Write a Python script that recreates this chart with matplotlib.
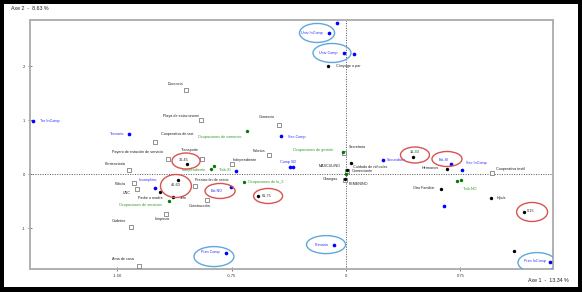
import matplotlib
matplotlib.use("Agg")
import matplotlib.pyplot as plt
from matplotlib.patches import Ellipse, Rectangle

plt.rcParams['font.family'] = ['Liberation Sans', 'DejaVu Sans']

# ---------------- data ----------------
# Occupations (hollow gray squares)
occ_names = ["Docencia", "Playa de estacionami", "Cooperativa de taxi",
             "Payero de estación de servicio", "Pentenciaria", "Transporte",
             "Policía", "UNC", "Prestación de servic", "Construcción", "Limpieza",
             "Cadeteo", "Ama de casa", "Comercio", "Fabrica", "Independiente",
             "Cooperativa textil", "Secretaria", "Comerciante", "Changas"]
occ_x = [-1.049, -0.951, -1.252, -1.167, -1.423, -0.944, -1.390, -1.370, -0.990, -0.911,
         -1.180, -1.410, -1.357, -0.439, -0.505, -0.748, 0.957, -0.013, 0.007, -0.007]
occ_y = [1.561, 1.006, 0.598, 0.283, 0.080, 0.283, -0.161, -0.272, -0.217, -0.476,
         -0.735, -0.976, -1.698, 0.913, 0.357, 0.191, 0.024, 0.394, 0.061, -0.105]

# Age / sex / household role (black dots)
blk_names = ["Cónyuge o par", "31-45", "46-60", "Padre o madre", "Jefe", "61-75",
             "MASCULINO", "FEMENINO", "Cuidado de niños/as", "16-30", "Hermanos",
             "Otro Familiar", "Hijo/a", "0-15", ""]
blk_x = [-0.118, -1.043, -1.102, -1.220, -1.134, -0.577, 0.007, -0.007, 0.033, 0.439,
         0.662, 0.623, 0.951, 1.167, 1.102]
blk_y = [2.006, 0.191, -0.104, -0.327, -0.420, -0.402, 0.080, -0.087, 0.209, 0.320,
         0.098, -0.272, -0.439, -0.698, -1.420]

# Education (blue dots)
edu_names = ["Univ InComp", "", "Univ Comp", "", "Ter InComp", "Terciario", "Incompleto",
             "Sec Comp", "Comp SD", "", "", "Est-NO", "Prim Comp", "Primario",
             "Secundario", "Est-SI", "Sec InComp", "", "Prim InComp"]
edu_x = [-0.111, -0.059, -0.013, 0.052, -2.052, -1.423, -1.252, -0.426, -0.367, -0.348,
         -0.721, -0.754, -0.787, -0.079, 0.243, 0.689, 0.761, 0.643, 1.338]
edu_y = [2.617, 2.802, 2.246, 2.228, 0.987, 0.746, -0.254, 0.709, 0.135, 0.135,
         0.061, -0.235, -1.457, -1.309, 0.265, 0.191, 0.080, -0.587, -1.624]

# Occupation groups / work (green dots)
grn_names = ["Ocupaciones de comercio", "Ocupaciones de gestión", "Ocupaciones de la_2",
             "Ocupaciones de servicios", "Independiente", "Trab-SI", "", "Trab-NO", ""]
grn_x = [-0.649, -0.020, -0.669, -1.161, -0.885, -0.866, 0.000, 0.728, 0.754]
grn_y = [0.802, 0.413, -0.142, -0.494, 0.098, 0.154, 0.006, -0.124, -0.105]

x_ticks = [-1.50, -0.75, 0, 0.75]
x_tick_labels = ["-1.50", "-0.75", "0", "0.75"]
y_ticks = [-1, 0, 1, 2]
y_tick_labels = ["-1", "0", "1", "2"]

# ---------------- layout (label offsets in pixels) ----------------
occ_off = {"Docencia": (-10, 6), "Playa de estacionami": (-20, 4),
           "Cooperativa de taxi": (22, 8), "Payero de estación de servicio": (-31, 7),
           "Pentenciaria": (-14, 6), "Transporte": (-12, 9), "Policía": (-14, -1),
           "UNC": (-10, -4), "Prestación de servic": (17, 6), "Construcción": (-7, -6),
           "Limpieza": (-4, -5), "Cadeteo": (-12, 6), "Ama de casa": (-16, 7),
           "Comercio": (-12, 8), "Fabrica": (-10, 4), "Independiente": (13, 4),
           "Cooperativa textil": (19, 4), "Secretaria": (13, 6),
           "Comerciante": (15, 0), "Changas": (-15, 1)}
blk_off = {"Cónyuge o par": (20, 0), "31-45": (-3, 4), "46-60": (-2, -5),
           "Padre o madre": (-10, -6), "Jefe": (10, -1), "61-75": (9, 0),
           "MASCULINO": (-17, 4), "FEMENINO": (14, -5), "Cuidado de niños/as": (19, -4),
           "16-30": (2, 5), "Hermanos": (-17, 1), "Otro Familiar": (-17, 1),
           "Hijo/a": (10, 0), "0-15": (7, 1)}
edu_off = {"Univ InComp": (-17, 0), "Univ Comp": (-16, 0), "Ter InComp": (17, 0),
           "Terciario": (-12, 0), "Incompleto": (-7, 8), "Sec Comp": (16, -1),
           "Comp SD": (-2, 5), "Est-NO": (-14, -4), "Prim Comp": (-16, 1),
           "Primario": (-12, 0), "Secundario": (13, 0), "Est-SI": (-7, 4),
           "Sec InComp": (14, 7), "Prim InComp": (-15, 1)}
grn_off = {"Ocupaciones de comercio": (-27, -6), "Ocupaciones de gestión": (-30, 2),
           "Ocupaciones de la_2": (22, 0), "Ocupaciones de servicios": (-29, -4),
           "Independiente": (-17, -1), "Trab-SI": (11, -4), "Trab-NO": (13, -8)}

# highlight ellipses: (center x, center y, width, height, colour)
BLUE_E = "#5fa8dc"
RED_E = "#d9534f"
ellipses = [(-0.190, 2.617, 0.230, 0.352, BLUE_E), (-0.092, 2.246, 0.249, 0.352, BLUE_E),
            (-0.866, -1.524, 0.262, 0.370, BLUE_E), (-0.131, -1.302, 0.256, 0.333, BLUE_E),
            (1.252, -1.635, 0.249, 0.370, BLUE_E),
            (-1.049, 0.246, 0.184, 0.296, RED_E), (-1.115, -0.217, 0.203, 0.426, RED_E),
            (-0.826, -0.309, 0.197, 0.278, RED_E), (-0.511, -0.402, 0.190, 0.278, RED_E),
            (0.452, 0.357, 0.190, 0.296, RED_E), (0.662, 0.283, 0.197, 0.278, RED_E),
            (1.220, -0.698, 0.203, 0.352, RED_E)]

W, H = 582, 292
fig = plt.figure(figsize=(W / 100, H / 100), dpi=100, facecolor="black")
fig.patches.append(Rectangle((4 / W, 5 / H), 574 / W, 283 / H, transform=fig.transFigure,
                             facecolor="white", edgecolor="none", zorder=-10))

ax = fig.add_axes([30 / W, 23 / H, 523 / W, 249 / H])
ax.set_zorder(5)
ax.set_facecolor("white")
ax.set_xlim(-2.072, 1.357)
ax.set_ylim(-1.754, 2.857)

ax.axhline(0, color="#555555", lw=0.7, ls=(0, (1, 1.5)), zorder=1)
ax.axvline(0, color="#555555", lw=0.7, ls=(0, (1, 1.5)), zorder=1)

FS = 2.7
ax.scatter(occ_x, occ_y, s=5, marker="s", facecolors="white", edgecolors="#808080",
           linewidths=0.6, zorder=3)
ax.scatter(blk_x, blk_y, s=6, color="black", zorder=4, linewidths=0)
ax.scatter(edu_x, edu_y, s=7, color="#0000ff", zorder=4, linewidths=0)
ax.scatter(grn_x, grn_y, s=6, color="#007a00", zorder=4, linewidths=0)

def label(names, xs, ys, offs, color):
    for n, x, y in zip(names, xs, ys):
        if not n or n not in offs:
            continue
        dx, dy = offs[n]
        ax.annotate(n, (x, y), xytext=(dx, dy), textcoords="offset pixels",
                    ha="center", va="center", fontsize=FS, color=color, zorder=5)

label(occ_names, occ_x, occ_y, occ_off, "#222222")
label(blk_names, blk_x, blk_y, blk_off, "#222222")
label(edu_names, edu_x, edu_y, edu_off, "#3030ff")
label(grn_names, grn_x, grn_y, grn_off, "#2e9a2e")

for cx, cy, w, h, c in ellipses:
    ax.add_patch(Ellipse((cx, cy), w, h, fill=False, edgecolor=c, lw=1.0, zorder=6))

for s in ax.spines.values():
    s.set_color("#b0b0b0")
    s.set_linewidth(1.4)

ax.set_xticks(x_ticks)
ax.set_xticklabels(x_tick_labels)
ax.set_yticks(y_ticks)
ax.set_yticklabels(y_tick_labels)
ax.tick_params(axis="both", direction="inout", length=3, width=0.6, color="#666666",
               labelsize=3, labelcolor="#333333", pad=2)

fig.text(11 / W, 1 - 9 / H, "Axe 2  -  8.63 %", fontsize=3.8, color="#222222",
         ha="left", va="center")
fig.text(569 / W, 1 - 281 / H, "Axe 1  -  13.34 %", fontsize=3.8, color="#222222",
         ha="right", va="center")

fig.savefig("out.png", dpi=100, facecolor="black")
